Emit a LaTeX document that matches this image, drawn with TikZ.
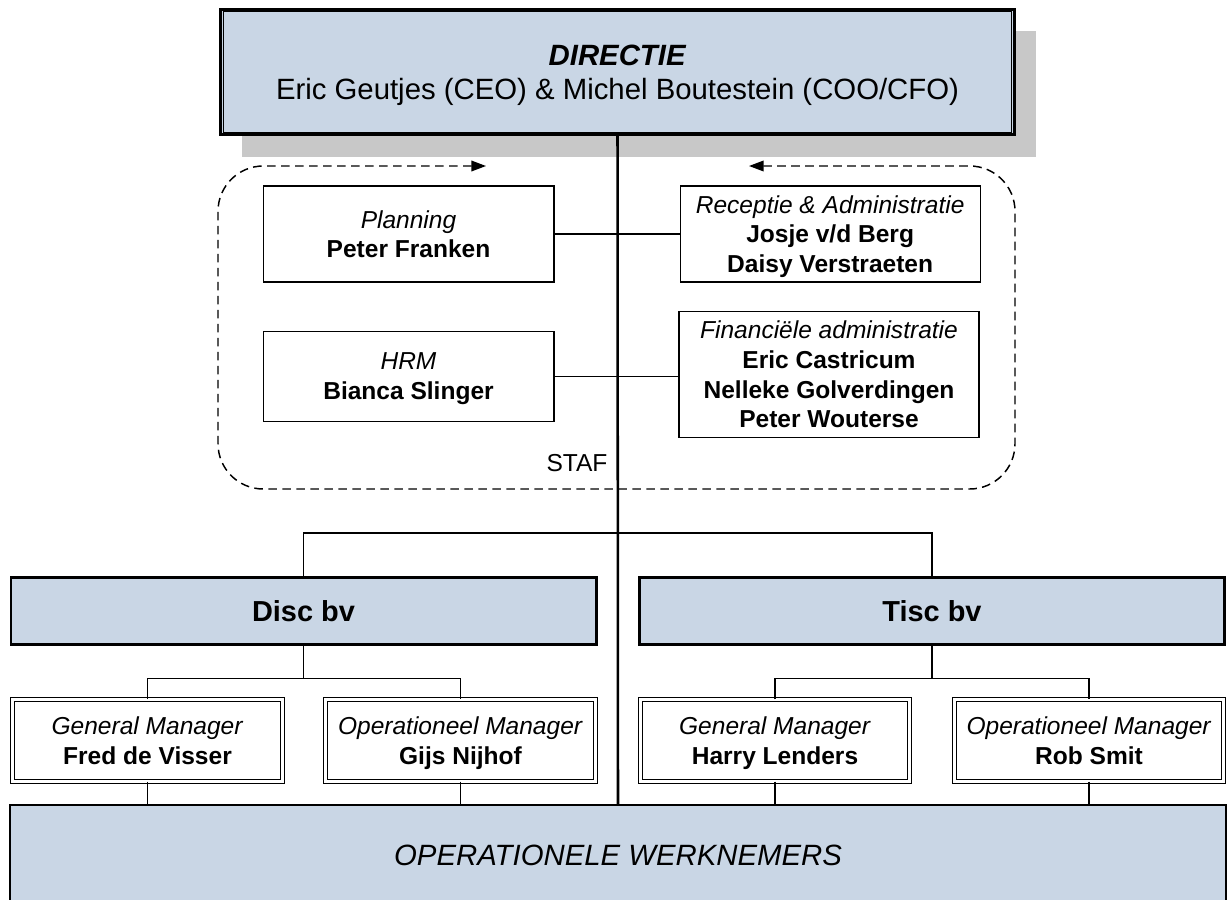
\documentclass[tikz,border=0pt]{standalone}
\usepackage{fontspec}
\setmainfont{Liberation Sans}
\usetikzlibrary{arrows.meta, positioning, shadows, calc}
\definecolor{boxblue}{RGB}{201,214,229}
\definecolor{shadowgray}{RGB}{200,200,200}
\newcommand{\boxfont}{\fontsize{18.4}{22.3}\selectfont}
\tikzset{
  board/.style={rectangle, draw, line width=2.2pt, fill=boxblue, align=center,
                minimum width=595pt, minimum height=94pt, text depth=0pt,
                font=\fontsize{22}{25.5}\selectfont,
                general shadow={fill=shadowgray, shadow xshift=16pt, shadow yshift=-16.5pt}},
  inner rim/.style={line width=0.9pt},
  staff/.style={rectangle, draw, line width=1pt, fill=white, align=center,
                inner sep=0pt, text depth=0pt, font=\boxfont},
  company/.style={rectangle, draw, line width=2pt, fill=boxblue, minimum width=439pt,
                  minimum height=50pt, font=\fontsize{21.7}{26}\selectfont\bfseries},
  manager/.style={rectangle, draw, line width=0.7pt, double=white, double distance=2.2pt,
                  fill=white, align=center, minimum width=202pt, minimum height=61pt,
                  inner sep=0pt, text depth=0pt, font=\boxfont},
  workers/.style={rectangle, draw, line width=0.9pt, fill=boxblue, minimum width=912pt,
                  minimum height=75pt, font=\fontsize{22}{26}\selectfont\itshape},
  link/.style={line width=0.9pt},
  trunk/.style={line width=1.9pt},
  stafline/.style={<->, >={Triangle[length=11pt, width=8pt]}, line width=1.1pt,
                   dash pattern=on 6.5pt off 4pt, rounded corners=34pt},
}

\begin{document}
\begin{tikzpicture}[x=0.75pt, y=-0.75pt, node distance=36pt]
  \useasboundingbox (0,0) rectangle (1227,899);
  \draw[stafline] (486,166) -- (218,166) -- (218,489) -- (1015,489) -- (1015,166) -- (749,166);
  \node[board] (dir) at (617.5,72) {\textbf{\textit{DIRECTIE}}\\Eric Geutjes (CEO) \& Michel Boutestein (COO/CFO)};
  \draw[inner rim] ($(dir.north west)+(4,4)$) rectangle ($(dir.south east)+(-4,-4)$);
  \node[staff, minimum width=218pt, minimum height=72pt] (plan) at (408.5,234)
    {\textit{Planning}\\\textbf{Peter Franken}};
  \node[staff, below=of plan, minimum width=218pt, minimum height=67.5pt] (hrm)
    {\textit{HRM}\\\textbf{Bianca Slinger}};
  \node[staff, right=93.75pt of plan, minimum width=225pt, minimum height=72pt] (recep)
    {\textit{Receptie \& Administratie}\\\textbf{Josje v/d Berg}\\\textbf{Daisy Verstraeten}};
  \node[staff, minimum width=225pt, minimum height=94.5pt] (fin) at (829,374.5)
    {\textit{Financiële administratie}\\\textbf{Eric Castricum}\\\textbf{Nelleke Golverdingen}\\\textbf{Peter Wouterse}};
  \node[font=\boxfont] (staflabel) at (577,463) {STAF};
  \draw[link] (plan.east) -- (recep.west);
  \draw[link] (hrm.east) -- (hrm.east -| fin.west);

  \node[company] (disc) at (303.5,611) {Disc bv};
  \node[company] (tisc) at (932,611) {Tisc bv};
  \node[manager] (gm1) at (147.5,740.5) {\textit{General Manager}\\\textbf{Fred de Visser}};
  \node[manager] (om1) at (460.5,740.5) {\textit{Operationeel Manager}\\\textbf{Gijs Nijhof}};
  \node[manager] (gm2) at (775,740.5) {\textit{General Manager}\\\textbf{Harry Lenders}};
  \node[manager] (om2) at (1089,740.5) {\textit{Operationeel Manager}\\\textbf{Rob Smit}};
  \node[workers] (werk) at (618,855) {OPERATIONELE WERKNEMERS};

  \coordinate (split) at (617.5,533);
  \coordinate (dsplit) at ($(disc.south)+(0,33)$);
  \coordinate (tsplit) at ($(tisc.south)+(0,33)$);
  \draw[link] (disc.north) |- (split) -| (tisc.north);
  \draw[link] (disc.south) -- (dsplit);
  \draw[link] (gm1.north) |- (dsplit) -| (om1.north);
  \draw[link] (tisc.south) -- (tsplit);
  \draw[link] (gm2.north) |- (tsplit) -| (om2.north);
  \foreach \m in {gm1, om1, gm2, om2}
    \draw[link] (\m.south) -- (\m.south |- werk.north);
  \draw[trunk] (dir.south) -- (werk.north);
\end{tikzpicture}
\end{document}
